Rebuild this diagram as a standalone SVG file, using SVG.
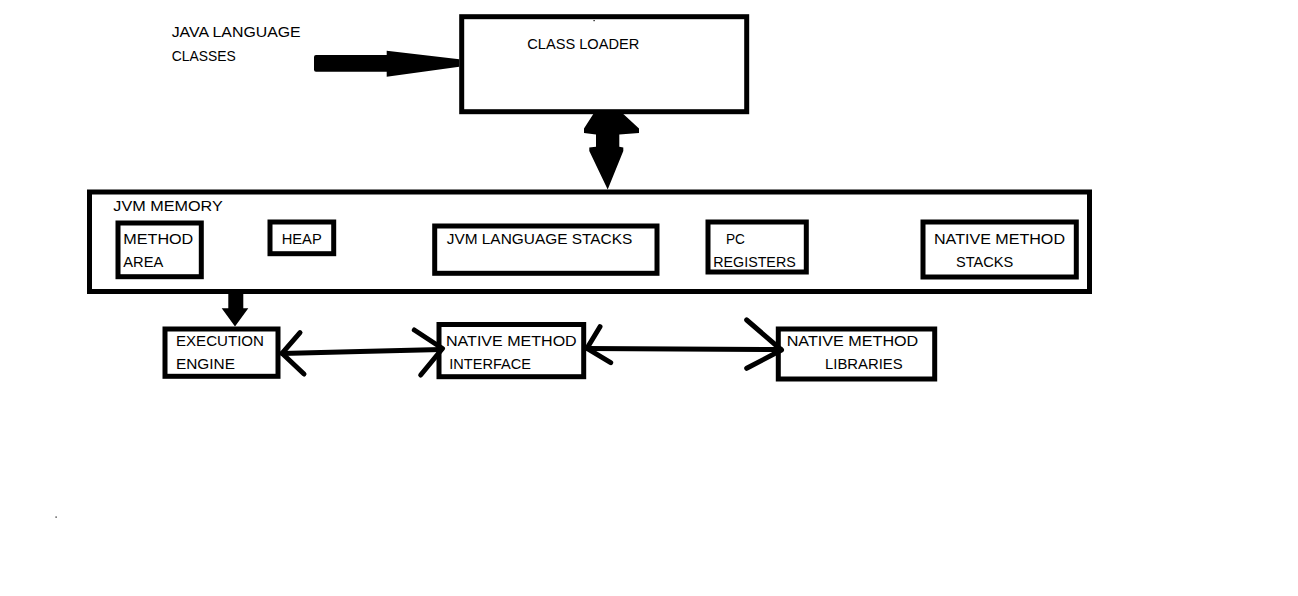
<svg xmlns="http://www.w3.org/2000/svg" width="1298" height="596" viewBox="0 0 1298 596">
<style>
.box{fill:none;stroke:#000;stroke-width:5}
.t{font-family:"Liberation Sans",Arial,sans-serif;font-size:15.5px;fill:#000}
.ln{fill:none;stroke:#000;stroke-width:5;stroke-linecap:round;stroke-linejoin:round}
.solid{fill:#000;stroke:none}
</style>
<rect width="1298" height="596" fill="#fff"/>
<g id="java-classes">
<text class="t" x="171.7" y="37.3" textLength="129" lengthAdjust="spacingAndGlyphs">JAVA LANGUAGE</text>
<text class="t" x="171.7" y="60.7" textLength="64" lengthAdjust="spacingAndGlyphs">CLASSES</text>
</g>
<g id="class-loader">
<rect class="box" x="461.7" y="16.7" width="285" height="95"/>
<text class="t" x="527.3" y="48.7" textLength="112" lengthAdjust="spacingAndGlyphs">CLASS LOADER</text>
<rect class="solid" x="593.5" y="20" width="1.2" height="1.2"/>
</g>
<g id="jvm-memory">
<rect class="box" x="89.5" y="192" width="1000" height="99.5"/>
<text class="t" x="113.3" y="210.7" textLength="109.4" lengthAdjust="spacingAndGlyphs">JVM MEMORY</text>
</g>
<g id="method-area">
<rect class="box" x="118" y="223" width="83.3" height="53.7"/>
<text class="t" x="123.3" y="244" textLength="70" lengthAdjust="spacingAndGlyphs">METHOD</text>
<text class="t" x="123.3" y="266.7" textLength="40" lengthAdjust="spacingAndGlyphs">AREA</text>
</g>
<g id="heap">
<rect class="box" x="270" y="222" width="63.7" height="31.7"/>
<text class="t" x="281.7" y="244" textLength="40" lengthAdjust="spacingAndGlyphs">HEAP</text>
</g>
<g id="jvm-language-stacks">
<rect class="box" x="434.7" y="226" width="222.3" height="47.3"/>
<text class="t" x="446.7" y="244" textLength="185.6" lengthAdjust="spacingAndGlyphs">JVM LANGUAGE STACKS</text>
</g>
<g id="pc-registers">
<rect class="box" x="708" y="222" width="98.3" height="50"/>
<text class="t" x="726" y="244" textLength="19" lengthAdjust="spacingAndGlyphs">PC</text>
<text class="t" x="713.3" y="267.3" textLength="82.4" lengthAdjust="spacingAndGlyphs">REGISTERS</text>
</g>
<g id="native-method-stacks">
<rect class="box" x="923" y="222" width="153.3" height="55"/>
<text class="t" x="934" y="244" textLength="131" lengthAdjust="spacingAndGlyphs">NATIVE METHOD</text>
<text class="t" x="956" y="267.3" textLength="57.3" lengthAdjust="spacingAndGlyphs">STACKS</text>
</g>
<g id="execution-engine">
<rect class="box" x="165" y="329" width="113" height="47.3"/>
<text class="t" x="176" y="346" textLength="88" lengthAdjust="spacingAndGlyphs">EXECUTION</text>
<text class="t" x="176" y="368.7" textLength="59" lengthAdjust="spacingAndGlyphs">ENGINE</text>
</g>
<g id="native-method-interface">
<rect class="box" x="439" y="324.5" width="144.7" height="52.2"/>
<text class="t" x="446" y="346" textLength="130.7" lengthAdjust="spacingAndGlyphs">NATIVE METHOD</text>
<text class="t" x="449.3" y="368.7" textLength="81.7" lengthAdjust="spacingAndGlyphs">INTERFACE</text>
</g>
<g id="native-method-libraries">
<rect class="box" x="778.3" y="329" width="156.4" height="50"/>
<text class="t" x="786.7" y="346" textLength="131.6" lengthAdjust="spacingAndGlyphs">NATIVE METHOD</text>
<text class="t" x="825" y="368.7" textLength="77.7" lengthAdjust="spacingAndGlyphs">LIBRARIES</text>
</g>
<g id="connectors">
<path class="solid" d="M314,57 Q314,55 316,55 L386.7,55 L386.7,50.7 L459.3,59.3 L459.3,66.7 L386.7,76.7 L386.7,71.7 L316,71.7 Q314,71.7 314,69.7 Z"/>
<path class="solid" d="M593.3,114 L623.3,114 L639,128.5 L639,133 L619.3,134.5 L619.3,146.7 L623.3,147.5 L623.3,151 L607.7,189.5 L589.3,151 L589.3,147.5 L596,146.7 L596,134.5 L584,133 L584,128.5 Z"/>
<path class="solid" d="M228.3,290 L243.3,290 L243.3,308.3 L248.3,308.3 L235,326.5 L221.7,308.3 L228.3,308.3 Z"/>
<path class="ln" d="M282,353.5 L360,351.5 L441,349.5"/>
<path class="ln" d="M300,332.7 L282,353.3 L304,374"/>
<path class="ln" d="M414.3,330 L442.5,348.5 L420.7,375"/>
<path class="ln" d="M587,348.5 L781,349.5"/>
<path class="ln" d="M600,326.7 L587,348.3 L610.7,362.7"/>
<path class="ln" d="M746.7,320 L781.5,350 L746.7,368.3"/>
</g>
<rect class="solid" x="55.5" y="516.5" width="1.2" height="1.2"/>
</svg>
